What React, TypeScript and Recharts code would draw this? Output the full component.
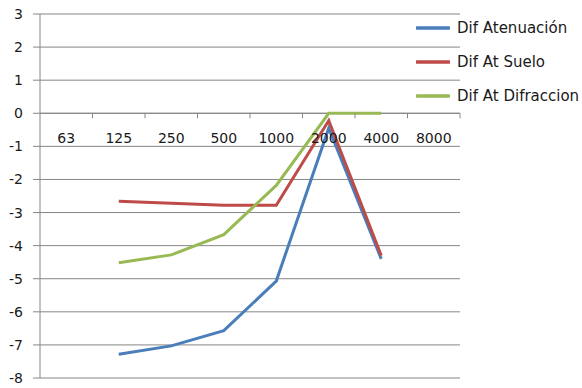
import React from 'react';
import { LineChart, Line, XAxis, YAxis, CartesianGrid, ReferenceLine, ReferenceDot } from 'recharts';

// Octave band centre frequencies (Hz)
const bands = ['63', '125', '250', '500', '1000', '2000', '4000', '8000'];

// Differences per band (dB)
const difAtenuacion: (number | null)[] = [null, -7.28, -7.03, -6.57, -5.07, -0.45, -4.4, null];
const difAtSuelo: (number | null)[] = [null, -2.66, -2.72, -2.78, -2.78, -0.22, -4.3, null];
const difAtDifraccion: (number | null)[] = [null, -4.52, -4.28, -3.67, -2.18, 0, 0, null];

const yTicks = [3, 2, 1, 0, -1, -2, -3, -4, -5, -6, -7, -8];

const series = [
  { key: 'atenuacion', name: 'Dif Atenuación', color: '#4A7EBB', values: difAtenuacion },
  { key: 'suelo', name: 'Dif At Suelo', color: '#BE4B48', values: difAtSuelo },
  { key: 'difraccion', name: 'Dif At Difraccion', color: '#98B954', values: difAtDifraccion },
];

const data = bands.map((band, i) => ({
  idx: i,
  band,
  atenuacion: difAtenuacion[i],
  suelo: difAtSuelo[i],
  difraccion: difAtDifraccion[i],
}));

// Category boundaries for the tick marks on the zero axis
const boundaries = bands.map((_, i) => i + 0.5);

const FONT = '"DejaVu Sans", sans-serif';
const AXIS = '#868686';
const TEXT = '#1a1a1a';

const BandTick = (props: any) => {
  const { cx, cy } = props;
  return <line x1={cx} y1={cy} x2={cx} y2={cy + 5} stroke={AXIS} strokeWidth={1} />;
};

const makeBandLabel = (text: string) => (props: any) => {
  const { cx, cy } = props;
  return (
    <text x={cx} y={cy + 25} textAnchor="middle" dominantBaseline="central" fontFamily={FONT} fontSize={14} fill={TEXT}>
      {text}
    </text>
  );
};

const SeriesLegend = () => (
  <div style={{ position: 'absolute', left: 416, top: 11, fontFamily: FONT, fontSize: 15, color: TEXT, whiteSpace: 'nowrap' }}>
    {series.map((s) => (
      <div key={s.key} style={{ display: 'flex', alignItems: 'center', height: 34 }}>
        <svg width={34} height={6} style={{ marginRight: 7 }}>
          <line x1={1} y1={3} x2={33} y2={3} stroke={s.color} strokeWidth={3.5} strokeLinecap="round" />
        </svg>
        <span>{s.name}</span>
      </div>
    ))}
  </div>
);

export default function App() {
  return (
    <div style={{ position: 'absolute', left: 0, top: 0, width: 582, height: 388, background: '#fff' }}>
      <LineChart width={582} height={388} data={data} margin={{ top: 14, right: 122, bottom: 10, left: 0 }}>
        <CartesianGrid horizontal vertical={false} stroke={AXIS} strokeWidth={1} />
        <XAxis dataKey="idx" type="number" domain={[-0.5, 7.5]} allowDataOverflow hide />
        <YAxis
          type="number"
          domain={[-8, 3]}
          ticks={yTicks}
          interval={0}
          width={40}
          axisLine={{ stroke: AXIS }}
          tickLine={{ stroke: AXIS }}
          tickSize={7}
          tickMargin={10}
          tick={{ fontFamily: FONT, fontSize: 14, fill: TEXT }}
        />
        <ReferenceLine y={0} stroke={AXIS} strokeWidth={1} />
        {boundaries.map((b) => (
          <ReferenceDot key={'t' + b} x={b} y={0} r={0} ifOverflow="visible" shape={BandTick} />
        ))}
        {bands.map((band, i) => (
          <ReferenceDot key={'l' + band} x={i} y={0} r={0} ifOverflow="visible" shape={makeBandLabel(band)} />
        ))}
        {series.map((s) => (
          <Line
            key={s.key}
            type="linear"
            dataKey={s.key}
            name={s.name}
            stroke={s.color}
            strokeWidth={3}
            dot={false}
            activeDot={false}
            connectNulls={false}
            isAnimationActive={false}
          />
        ))}
      </LineChart>
      <SeriesLegend />
    </div>
  );
}
